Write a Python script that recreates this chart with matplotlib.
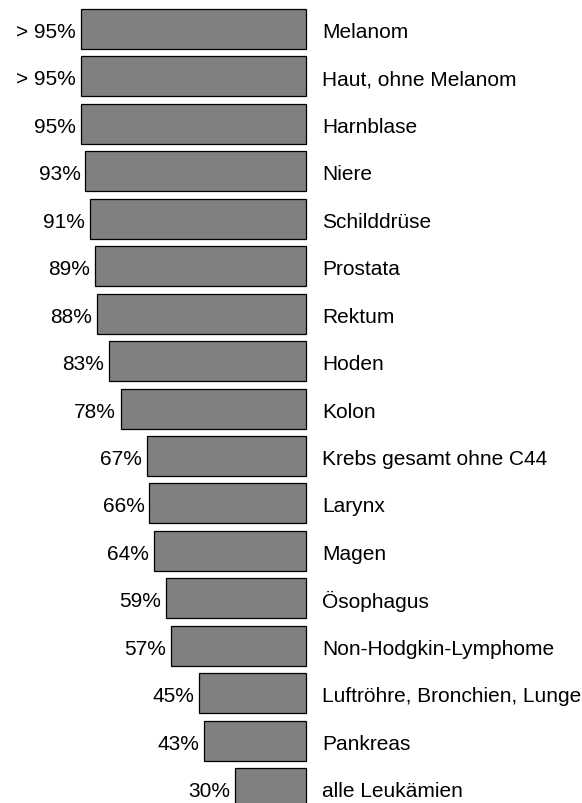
import matplotlib.pyplot as plt
import matplotlib.transforms as mtransforms

plt.rcParams['font.family'] = ['Liberation Sans', 'DejaVu Sans']

categories = ['Melanom', 'Haut, ohne Melanom', 'Harnblase', 'Niere', 'Schilddrüse',
              'Prostata', 'Rektum', 'Hoden', 'Kolon', 'Krebs gesamt ohne C44',
              'Larynx', 'Magen', 'Ösophagus', 'Non-Hodgkin-Lymphome',
              'Luftröhre, Bronchien, Lunge', 'Pankreas', 'alle Leukämien']
values = [95, 95, 95, 93, 91, 89, 88, 83, 78, 67, 66, 64, 59, 57, 45, 43, 30]
labels = ['> 95%', '> 95%', '95%', '93%', '91%', '89%', '88%', '83%', '78%', '67%',
          '66%', '64%', '59%', '57%', '45%', '43%', '30%']

fig = plt.figure(figsize=(5.82, 8.04), dpi=100)
ax = fig.add_axes([0, 0, 1, 1])

y = list(range(len(categories)))
ax.barh(y, values, height=0.843, color='#808080', edgecolor='black', linewidth=0.9)

# inverted x: bars grow leftwards from 0
ax.set_xlim(129.0, -116.4)
ax.set_ylim(16.315, -0.632)
ax.axis('off')

left_off = mtransforms.offset_copy(ax.transData, fig=fig, x=-5, y=-2.5, units='dots')
right_off = mtransforms.offset_copy(ax.transData, fig=fig, x=16, y=-2.5, units='dots')
for i, (v, lab, cat) in enumerate(zip(values, labels, categories)):
    ax.text(v, i, lab, ha='right', va='center', fontsize=15, transform=left_off)
    ax.text(0, i, cat, ha='left', va='center', fontsize=15, transform=right_off)

plt.savefig('out.png', dpi=100)
